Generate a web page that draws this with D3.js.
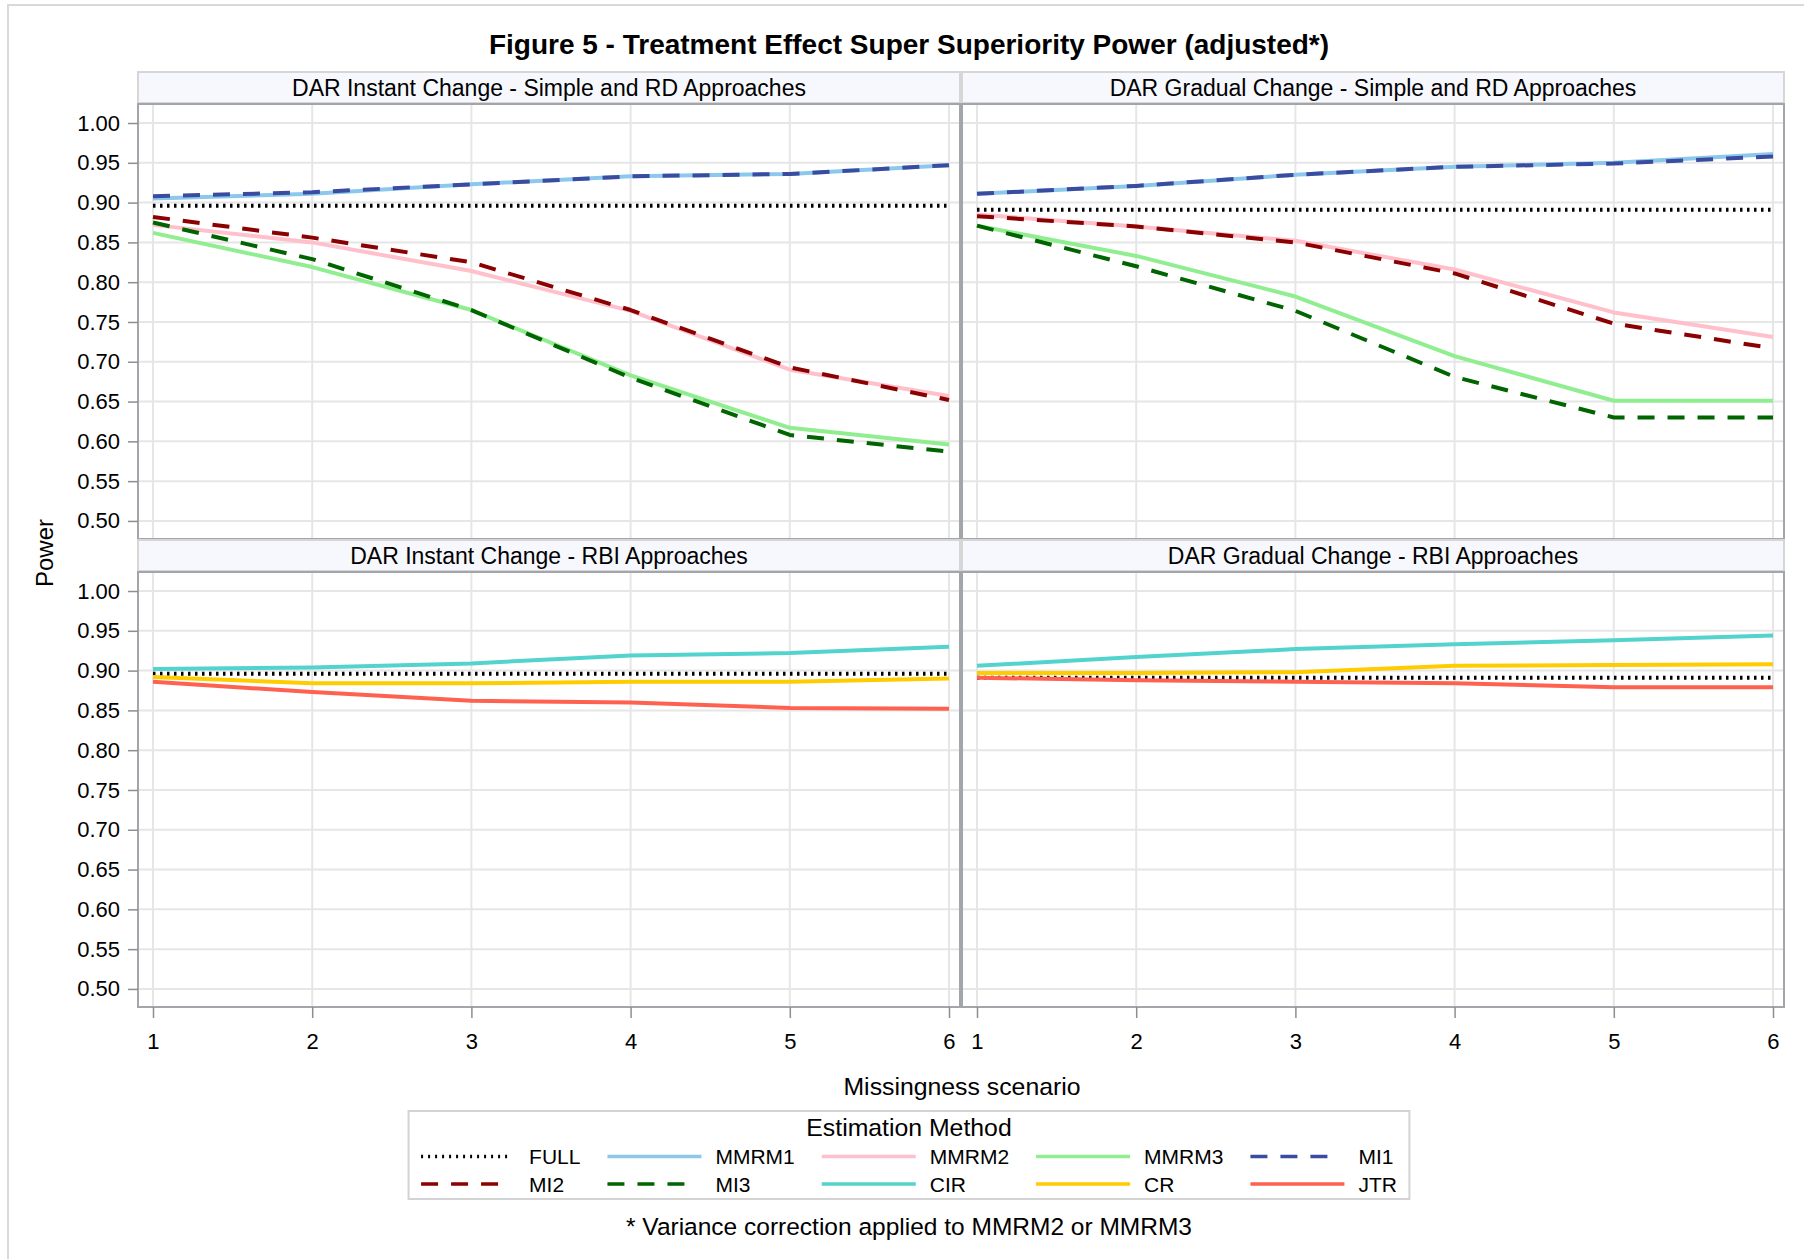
<!DOCTYPE html>
<html>
<head>
<meta charset="utf-8">
<script src="https://cdn.jsdelivr.net/npm/d3@7"></script>
<style>
  html, body { margin: 0; padding: 0; background: #fff; }
  svg { display: block; }
  text { font-family: "Liberation Sans", Arial, Helvetica, sans-serif; fill: #000; }
</style>
</head>
<body>
<svg id="chart" width="1804" height="1259"></svg>
<script>
// ---------------- DATA ----------------
const scenarios = [1, 2, 3, 4, 5, 6];
const yTickValues = [0.50, 0.55, 0.60, 0.65, 0.70, 0.75, 0.80, 0.85, 0.90, 0.95, 1.00];
const methods = ["FULL", "MMRM1", "MMRM2", "MMRM3", "MI1", "MI2", "MI3", "CIR", "CR", "JTR"];
const panelTitles = [
  "DAR Instant Change - Simple and RD Approaches",
  "DAR Gradual Change - Simple and RD Approaches",
  "DAR Instant Change - RBI Approaches",
  "DAR Gradual Change - RBI Approaches"
];

// DAR Instant Change
const fullInstant  = [0.896, 0.896, 0.896, 0.896, 0.896, 0.896];
const mmrm1Instant = [0.905, 0.911, 0.923, 0.933, 0.936, 0.947];
const mmrm2Instant = [0.872, 0.850, 0.814, 0.764, 0.690, 0.657];
const mmrm3Instant = [0.862, 0.819, 0.765, 0.683, 0.617, 0.596];
const mi1Instant   = [0.908, 0.913, 0.923, 0.933, 0.936, 0.947];
const mi2Instant   = [0.882, 0.856, 0.825, 0.765, 0.693, 0.652];
const mi3Instant   = [0.875, 0.829, 0.765, 0.680, 0.608, 0.587];
const cirInstant   = [0.902, 0.904, 0.909, 0.919, 0.922, 0.930];
const crInstant    = [0.892, 0.884, 0.884, 0.886, 0.886, 0.890];
const jtrInstant   = [0.886, 0.873, 0.862, 0.860, 0.853, 0.852];

// DAR Gradual Change
const fullGradual  = [0.891, 0.891, 0.891, 0.891, 0.891, 0.891];
const mmrm1Gradual = [0.911, 0.921, 0.935, 0.945, 0.950, 0.961];
const mmrm2Gradual = [0.885, 0.870, 0.852, 0.816, 0.762, 0.731];
const mmrm3Gradual = [0.871, 0.833, 0.782, 0.707, 0.651, 0.651];
const mi1Gradual   = [0.911, 0.921, 0.935, 0.945, 0.949, 0.958];
const mi2Gradual   = [0.883, 0.870, 0.850, 0.811, 0.748, 0.717];
const mi3Gradual   = [0.871, 0.820, 0.764, 0.681, 0.630, 0.630];
const cirGradual   = [0.906, 0.917, 0.927, 0.933, 0.938, 0.944];
const crGradual    = [0.897, 0.897, 0.898, 0.906, 0.907, 0.908];
const jtrGradual   = [0.891, 0.888, 0.886, 0.884, 0.879, 0.879];

// ---------------- STYLES ----------------
const styles = {
  FULL:  { color: "#000000", dash: "2.5,4.5", width: 4 },
  MMRM1: { color: "#8CC8EC", dash: null,    width: 4 },
  MMRM2: { color: "#FFC0CB", dash: null,    width: 4 },
  MMRM3: { color: "#90EE90", dash: null,    width: 4 },
  MI1:   { color: "#3A4CA0", dash: "17,13", width: 4 },
  MI2:   { color: "#8B0000", dash: "17,13", width: 4 },
  MI3:   { color: "#006400", dash: "17,13", width: 4 },
  CIR:   { color: "#52D3CE", dash: null,    width: 4 },
  CR:    { color: "#FFCC00", dash: null,    width: 4 },
  JTR:   { color: "#FF6150", dash: null,    width: 4 }
};

const panels = [
  { title: panelTitles[0], col: 0, row: 0, series: {
      FULL: fullInstant, MMRM1: mmrm1Instant, MMRM2: mmrm2Instant, MMRM3: mmrm3Instant,
      MI1: mi1Instant, MI2: mi2Instant, MI3: mi3Instant } },
  { title: panelTitles[1], col: 1, row: 0, series: {
      FULL: fullGradual, MMRM1: mmrm1Gradual, MMRM2: mmrm2Gradual, MMRM3: mmrm3Gradual,
      MI1: mi1Gradual, MI2: mi2Gradual, MI3: mi3Gradual } },
  { title: panelTitles[2], col: 0, row: 1, series: {
      FULL: fullInstant, CIR: cirInstant, CR: crInstant, JTR: jtrInstant } },
  { title: panelTitles[3], col: 1, row: 1, series: {
      FULL: fullGradual, CIR: cirGradual, CR: crGradual, JTR: jtrGradual } }
];

// ---------------- LAYOUT ----------------
const svg = d3.select("#chart");
const FONT_TICK = 22;
const colX = [138, 962];
const colW = 822;
const rowY = [72, 540];
const stripH = 31;
const plotH = 435;
const GRID = "#e6e6e6";
const BORDER = "#a2a6aa";

// outer frame
svg.append("rect").attr("x", 8).attr("y", 5).attr("width", 1900).attr("height", 1400)
  .attr("fill", "none").attr("stroke", "#d9d9d9").attr("stroke-width", 2);

// title
svg.append("text").attr("x", 909).attr("y", 44)
  .attr("text-anchor", "middle").attr("dominant-baseline", "central")
  .style("font-size", "28px").style("font-weight", "bold")
  .text("Figure 5 - Treatment Effect Super Superiority Power (adjusted*)");

const lineGen = (x, y) => d3.line().x((d, i) => x(scenarios[i])).y(d => y(d));

panels.forEach(p => {
  const x0 = colX[p.col];
  const sy = rowY[p.row];
  const top = sy + stripH + 1;
  const bottom = top + plotH;
  const x = d3.scaleLinear().domain([0.9058, 6.0691]).range([x0, x0 + colW]);
  const y = d3.scaleLinear().domain([0.4773, 1.0239]).range([bottom, top]);
  const g = svg.append("g");

  // strip
  g.append("rect").attr("x", x0).attr("y", sy).attr("width", colW).attr("height", stripH)
    .attr("fill", "#f7f8fd").attr("stroke", "#d6d6d6").attr("stroke-width", 2);
  g.append("text").attr("x", x0 + colW / 2).attr("y", sy + stripH / 2)
    .attr("text-anchor", "middle").attr("dominant-baseline", "central")
    .style("font-size", "23px").text(p.title);

  // gridlines
  g.append("g").selectAll("line").data(yTickValues).join("line")
    .attr("x1", x0).attr("x2", x0 + colW)
    .attr("y1", d => y(d)).attr("y2", d => y(d))
    .attr("stroke", GRID).attr("stroke-width", 2);
  g.append("g").selectAll("line").data(scenarios).join("line")
    .attr("x1", d => x(d)).attr("x2", d => x(d))
    .attr("y1", top).attr("y2", bottom)
    .attr("stroke", GRID).attr("stroke-width", 2);

  // series lines
  const clipId = "clip" + p.col + p.row;
  g.append("clipPath").attr("id", clipId).append("rect")
    .attr("x", x0).attr("y", top).attr("width", colW).attr("height", plotH);
  const lg = g.append("g").attr("clip-path", `url(#${clipId})`);
  methods.forEach(m => {
    const vals = p.series[m];
    if (!vals) return;
    const st = styles[m];
    lg.append("path").datum(vals)
      .attr("d", lineGen(x, y))
      .attr("fill", "none")
      .attr("stroke", st.color)
      .attr("stroke-width", st.width)
      .attr("stroke-dasharray", st.dash)
      .attr("stroke-linejoin", "round");
  });

  // panel border
  g.append("rect").attr("x", x0).attr("y", top).attr("width", colW).attr("height", plotH)
    .attr("fill", "none").attr("stroke", BORDER).attr("stroke-width", 2);

  // axes
  if (p.col === 0) {
    const ax = g.append("g").attr("transform", `translate(${x0},0)`)
      .call(d3.axisLeft(y).tickValues(yTickValues).tickFormat(d3.format(".2f")).tickSize(10).tickPadding(8));
    ax.select(".domain").remove();
    ax.selectAll(".tick line").attr("stroke", "#8e8e8e").attr("stroke-width", 1.5);
    ax.selectAll(".tick text").style("font-size", FONT_TICK + "px").attr("font-family", null);
  }
  if (p.row === 1) {
    const ax = g.append("g").attr("transform", `translate(0,${bottom})`)
      .call(d3.axisBottom(x).tickValues(scenarios).tickFormat(d3.format("d")).tickSize(11).tickPadding(15));
    ax.select(".domain").remove();
    ax.selectAll(".tick line").attr("stroke", "#8e8e8e").attr("stroke-width", 1.5);
    ax.selectAll(".tick text").style("font-size", FONT_TICK + "px").attr("font-family", null);
  }
});

// axis labels
svg.append("text").attr("transform", "translate(44,553) rotate(-90)")
  .attr("text-anchor", "middle").attr("dominant-baseline", "central")
  .style("font-size", "24px").text("Power");
svg.append("text").attr("x", 962).attr("y", 1086)
  .attr("text-anchor", "middle").attr("dominant-baseline", "central")
  .style("font-size", "24.8px").text("Missingness scenario");

// ---------------- LEGEND ----------------
const legendRows = [methods.slice(0, 5), methods.slice(5, 10)];
const labelOff = 108, colGap = 27, padX = 12.5;
const measure = svg.append("text").style("font-size", "21px").attr("x", -1000).attr("y", -1000);
const nCols = 5;
const colWidths = [];
for (let c = 0; c < nCols; c++) {
  let mw = 0;
  legendRows.forEach(r => { measure.text(r[c]); mw = Math.max(mw, measure.node().getComputedTextLength()); });
  colWidths.push({ label: mw });
}
measure.remove();
let total = 0;
const colStart = [];
colWidths.forEach((cw, i) => {
  colStart.push(total);
  total += labelOff + cw.label + (i < nCols - 1 ? colGap : 0);
});
const legW = total + 2 * padX;
const legX = 909 - legW / 2;
const legY = 1111, legH = 88;
const leg = svg.append("g");
leg.append("rect").attr("x", legX).attr("y", legY).attr("width", legW).attr("height", legH)
  .attr("fill", "none").attr("stroke", "#d3d3d3").attr("stroke-width", 2);
leg.append("text").attr("x", legX + legW / 2).attr("y", 1127.5)
  .attr("text-anchor", "middle").attr("dominant-baseline", "central")
  .style("font-size", "24.8px").text("Estimation Method");
const rowYs = [1156.5, 1184];
legendRows.forEach((r, ri) => {
  r.forEach((m, ci) => {
    const st = styles[m];
    const lx = legX + padX + colStart[ci];
    const len = m === "FULL" ? 86 : (st.dash ? 77 : 94);
    leg.append("line").attr("x1", lx).attr("x2", lx + len)
      .attr("y1", rowYs[ri]).attr("y2", rowYs[ri])
      .attr("stroke", st.color).attr("stroke-width", 3.4)
      .attr("stroke-dasharray", m === "FULL" ? "2,5" : st.dash);
    leg.append("text").attr("x", lx + labelOff).attr("y", rowYs[ri])
      .attr("dominant-baseline", "central").style("font-size", "21px").text(m);
  });
});

// footnote
svg.append("text").attr("x", 909).attr("y", 1226.5)
  .attr("text-anchor", "middle").attr("dominant-baseline", "central")
  .style("font-size", "24.5px").text("* Variance correction applied to MMRM2 or MMRM3");
</script>
</body>
</html>
